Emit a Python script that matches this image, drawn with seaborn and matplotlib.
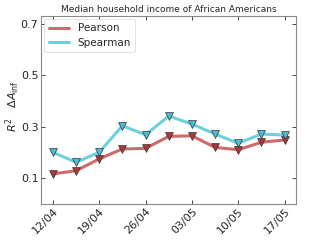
import numpy as np
import pandas as pd
import matplotlib
matplotlib.use("Agg")
import matplotlib.pyplot as plt
import seaborn as sns

dates = ["12/04", "15/04", "19/04", "22/04", "26/04", "29/04",
         "03/05", "06/05", "10/05", "13/05", "17/05"]
pearson = [0.116, 0.128, 0.174, 0.213, 0.215, 0.262, 0.264, 0.219, 0.210, 0.239, 0.248]
spearman = [0.200, 0.161, 0.200, 0.303, 0.268, 0.341, 0.310, 0.271, 0.235, 0.271, 0.267]

sns.set_style("ticks")
plt.rcParams['font.family'] = ['DejaVu Sans']

df = pd.DataFrame({
    "pos": list(range(len(dates))) * 2,
    "value": pearson + spearman,
    "method": ["Pearson"] * len(dates) + ["Spearman"] * len(dates),
})

fig, ax = plt.subplots(figsize=(3.22, 2.41), dpi=100)

line_cols = {"Pearson": "#cd6b6b", "Spearman": "#6fd0dd"}
mark_cols = {"Pearson": "#a8383a", "Spearman": "#4cbcd2"}

sns.lineplot(data=df, x="pos", y="value", hue="method", palette=line_cols,
             linewidth=2.2, ax=ax)
for m in ["Pearson", "Spearman"]:
    sub = df[df["method"] == m]
    sns.scatterplot(data=sub, x="pos", y="value", color=mark_cols[m], marker="v",
                    s=32, edgecolor="#333333", linewidth=0.5, ax=ax, zorder=3,
                    legend=False)

ax.set_xlim(-0.5, 10.5)
ax.set_ylim(0.0, 0.73)
ax.set_yticks([0.1, 0.3, 0.5, 0.7])
ax.set_yticklabels(["0.1", "0.3", "0.5", "0.7"], fontsize=8)
ax.set_xticks(range(0, len(dates), 2))
ax.set_xticklabels(dates[::2], rotation=45, ha="right", rotation_mode="anchor", fontsize=8)
ax.tick_params(direction="in", length=3, width=0.6, top=True, right=True, pad=2)
for s in ax.spines.values():
    s.set_color("#888888")
    s.set_linewidth(0.8)

ax.set_xlabel("")
ax.set_ylabel(r"$R^2\quad\Delta A_{\rm inf}$", fontsize=8, labelpad=2)
ax.yaxis.set_label_coords(-0.075, 0.52)
ax.set_title("Median household income of African Americans", fontsize=6.5, pad=3)

leg = ax.legend(loc="upper left", fontsize=7.5, frameon=True, handlelength=2.0,
                borderpad=0.4, labelspacing=0.4, borderaxespad=0.3)
leg.get_frame().set_linewidth(0.5)
leg.get_frame().set_edgecolor("#cccccc")

fig.subplots_adjust(left=0.128, right=0.92, top=0.933, bottom=0.155)
fig.savefig("out.png", dpi=100)
